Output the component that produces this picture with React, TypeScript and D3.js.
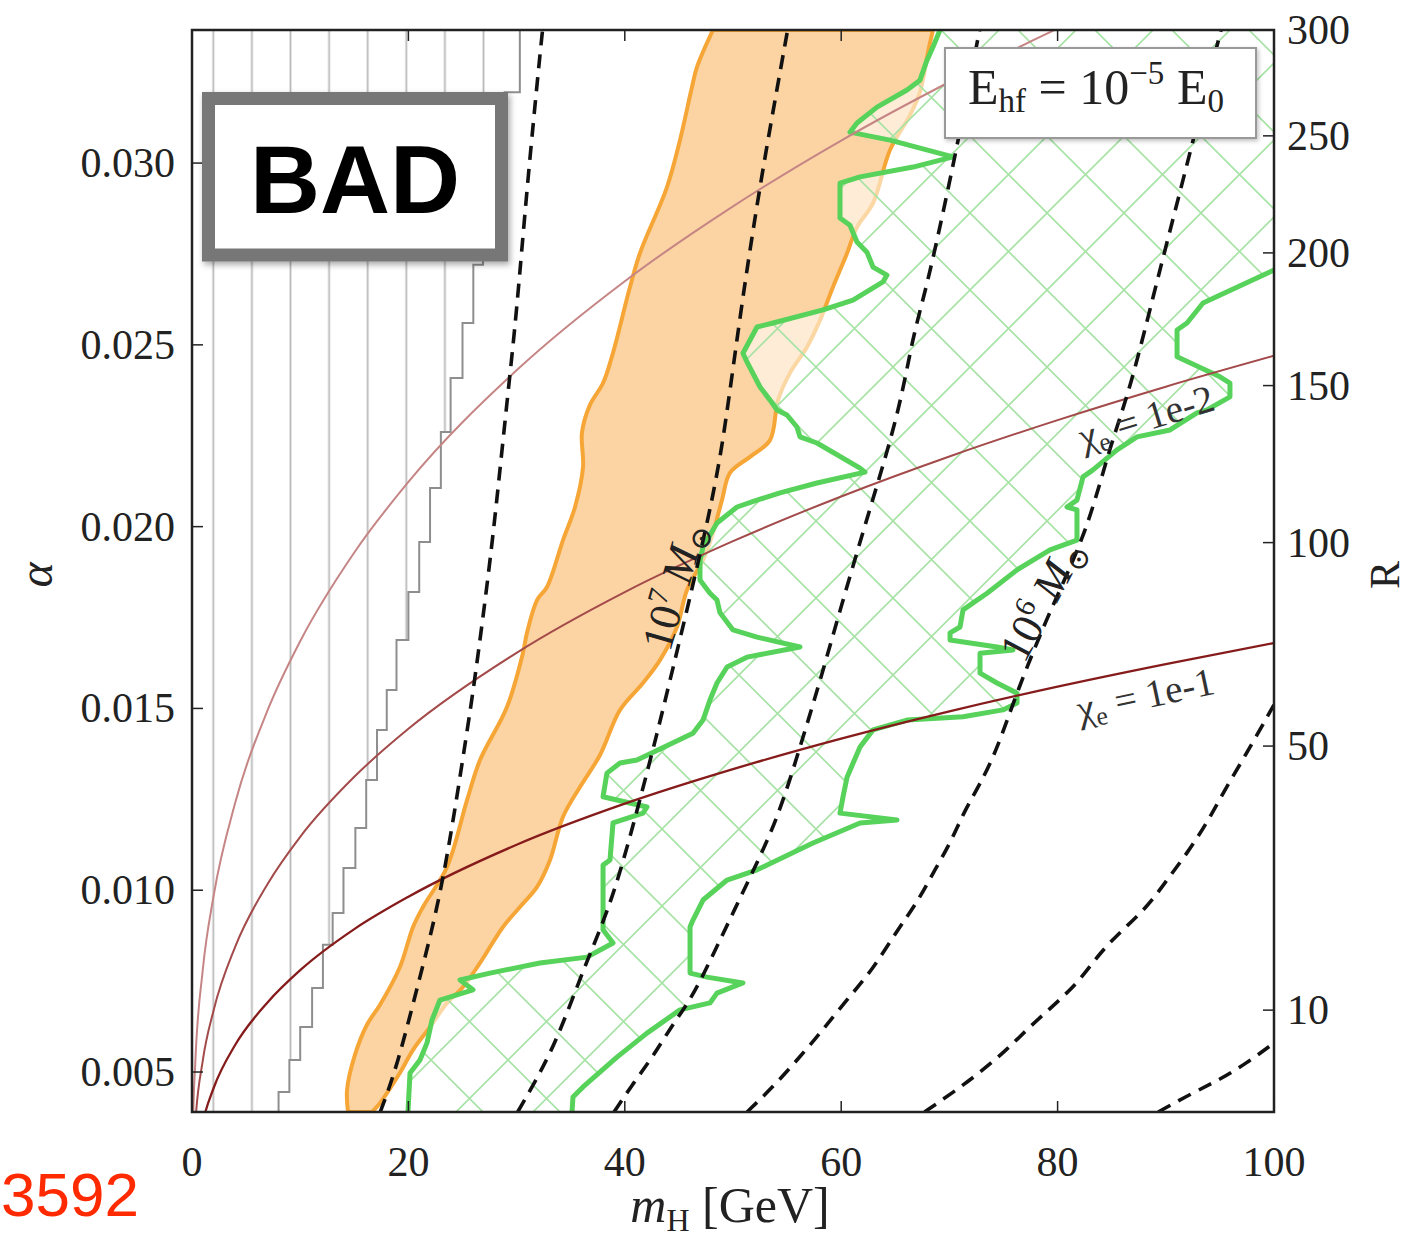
import React from 'react';
import * as d3 from 'd3';

type P = [number, number];

// ---- axes / ticks ----
const MH_MIN = 0;
const MH_MAX = 100;
const ALPHA_MIN = 0.0039;
const ALPHA_MAX = 0.03366;
const X_TICKS = [0, 20, 40, 60, 80, 100];
const ALPHA_TICKS = [0.005, 0.01, 0.015, 0.02, 0.025, 0.03];
const ALPHA_TICK_LABELS = ['0.005', '0.010', '0.015', '0.020', '0.025', '0.030'];
const R_TICKS = [10, 50, 100, 150, 200, 250, 300];
// R = R_COEF * alpha^2 - R_OFFSET
const R_OFFSET = 1.97;
const R_COEF = 266500;

// ---- chi_e curves ----
const CHI_MH = [0, 0.1, 0.3, 1, 2, 4, 7, 10, 15, 20, 30, 40, 50, 60, 70, 80, 90, 100];
const CHI_1E3 = [0, 0.00363, 0.00523, 0.00782, 0.00985, 0.01241, 0.01496, 0.01685, 0.01929, 0.02123, 0.0243, 0.02675, 0.02881, 0.03062, 0.03223, 0.0337, 0.03505, 0.0363];
const CHI_1E2 = [0, 0.00247, 0.00356, 0.00532, 0.0067, 0.00845, 0.01018, 0.01147, 0.01312, 0.01444, 0.01653, 0.0182, 0.0196, 0.02083, 0.02193, 0.02293, 0.02385, 0.0247];
const CHI_1E1 = [0, 0.00168, 0.00242, 0.00362, 0.00456, 0.00575, 0.00692, 0.0078, 0.00893, 0.00982, 0.01125, 0.01238, 0.01333, 0.01417, 0.01492, 0.0156, 0.01622, 0.0168];

// ---- excluded (vertical hatch) stepped boundary ----
const STEP_BOUNDARY: P[] = [
  [8, 0.0039], [9, 0.00445], [10, 0.00533], [11.1, 0.00624], [12.1, 0.00731], [13, 0.0085],
  [14, 0.00937], [15.1, 0.01061], [16.1, 0.01171], [17.1, 0.01303], [18, 0.01441], [18.9, 0.01551],
  [20, 0.01688], [21, 0.0182], [22, 0.01958], [23, 0.02106], [23.9, 0.0226], [25, 0.02409],
  [26, 0.0256], [26.9, 0.0272], [27.8, 0.02851], [28.9, 0.03036], [30.3, 0.03195], [30.3, 0.03366],
];

// ---- dashed mass contours ----
const DASH_1: P[] = [[17.4, 0.0039], [18.95, 0.00514], [21.07, 0.00762], [23.2, 0.01009], [25.4, 0.01433], [26.1, 0.0157], [27.5, 0.01889], [28.3, 0.02109], [29.2, 0.02368], [30.0, 0.02588], [30.96, 0.02934], [32.2, 0.03311], [32.4, 0.03366]];
const DASH_2: P[] = [[30.1, 0.0039], [32.2, 0.00498], [34.0, 0.00608], [36.5, 0.00808], [38.9, 0.00973], [41.4, 0.01248], [43.0, 0.01433], [43.9, 0.01543], [48.2, 0.02073], [49.4, 0.02302], [50.6, 0.02568], [51.8, 0.02808], [53.1, 0.03044], [55.0, 0.03358]];
const DASH_3: P[] = [[39.0, 0.0039], [40.8, 0.0047], [42.6, 0.00542], [44.5, 0.00635], [46.3, 0.00707], [48.8, 0.00863], [51.6, 0.01037], [54.1, 0.01193], [56.2, 0.01394], [58.0, 0.0157], [60.5, 0.01834], [62.9, 0.02073], [65.4, 0.02321], [66.6, 0.02522], [67.9, 0.02659], [69.4, 0.02862], [70.7, 0.03044], [72.6, 0.03338], [72.8, 0.03366]];
const DASH_4: P[] = [[51.3, 0.0039], [53.7, 0.00459], [56.2, 0.00542], [58.3, 0.00616], [60.5, 0.00698], [62.9, 0.00781], [65.2, 0.00891], [67.0, 0.00965], [68.5, 0.01048], [70.1, 0.0113], [71.3, 0.01213], [72.8, 0.0129], [74.4, 0.01386], [76.2, 0.01543], [79.3, 0.01771], [82.7, 0.01983], [84.8, 0.02219], [86.7, 0.02376], [89.2, 0.02678], [91.6, 0.02953], [95.1, 0.03366]];
const DASH_5: P[] = [[67.7, 0.0039], [70.3, 0.00443], [72.8, 0.00498], [75.3, 0.00561], [77.4, 0.00624], [79.9, 0.0069], [82.1, 0.00753], [83.9, 0.00828], [86.0, 0.00891], [88.3, 0.00954], [90.1, 0.01028], [92.0, 0.01103], [93.8, 0.01185], [95.3, 0.01268], [97.1, 0.01358], [98.7, 0.01441], [100, 0.0151]];
const DASH_6: P[] = [[89.3, 0.0039], [92.5, 0.00443], [95.0, 0.00479], [97.5, 0.00525], [100, 0.0058]];

// ---- orange band ----
const ORANGE_LEFT: P[] = [[48.15, 0.03366], [46.67, 0.03264], [46.21, 0.03209], [45.1, 0.03063], [43.9, 0.02934], [41.4, 0.02752], [40.48, 0.02659], [38.91, 0.02478], [37.99, 0.02395], [36.78, 0.02335], [36.04, 0.02258], [36.14, 0.02164], [35.4, 0.02054], [34.29, 0.01963], [32.81, 0.01834], [31.89, 0.01798], [30.96, 0.01708], [30.59, 0.01653], [29.11, 0.01504], [26.62, 0.01358], [25.42, 0.01248], [23.57, 0.01064], [21.35, 0.00954], [20.43, 0.00899], [19.22, 0.00789], [17.38, 0.00685], [16.17, 0.0063], [15.06, 0.00547], [14.33, 0.00451], [14.42, 0.0039]];
const ORANGE_RIGHT: P[] = [[68.48, 0.03366], [68.02, 0.03305], [67.28, 0.03195], [66.36, 0.03132], [64.51, 0.03036], [62.94, 0.0289], [61.46, 0.02824], [60.54, 0.02752], [59.24, 0.02659], [58.04, 0.02568], [56.84, 0.02494], [55.27, 0.02423], [54.16, 0.02348], [53.42, 0.02238], [51.57, 0.02192], [49.72, 0.02148], [48.98, 0.02073], [48.15, 0.01983], [47.23, 0.01908], [45.75, 0.01826], [44.82, 0.01724], [43.25, 0.01633], [41.68, 0.0157], [39.56, 0.01496], [37.71, 0.01372], [35.86, 0.01284], [34.29, 0.01202], [33.09, 0.01083], [31.89, 0.01009], [30.31, 0.00954], [28.74, 0.00899], [26.62, 0.008], [25.05, 0.00734], [23.57, 0.0069], [22.0, 0.00624], [20.43, 0.00561], [19.22, 0.00498], [17.38, 0.00415], [16.64, 0.0039]];

// ---- green boundaries ----
const GREEN_UPPER: P[] = [[69.13, 0.03366], [68.48, 0.03319], [67.93, 0.03283], [67.28, 0.03228], [66.08, 0.03201], [63.31, 0.03154], [61.46, 0.0311], [60.81, 0.03085], [64.51, 0.03063], [70.33, 0.03017], [66.64, 0.02989], [61.74, 0.02962], [59.89, 0.02945], [59.89, 0.02849], [60.81, 0.02829], [61.46, 0.02783], [62.38, 0.02755], [62.94, 0.02714], [64.23, 0.02692], [63.86, 0.02673], [61.09, 0.02623], [58.32, 0.02596], [53.7, 0.0256], [52.22, 0.02549], [50.92, 0.02477], [51.29, 0.02453], [52.5, 0.02384], [53.42, 0.02348], [54.07, 0.02321], [54.99, 0.02307], [55.91, 0.02274], [56.19, 0.02247], [57.76, 0.0223], [61.74, 0.02161], [62.2, 0.0215], [57.76, 0.0212], [54.34, 0.02093], [52.22, 0.02073], [50.37, 0.02054], [48.52, 0.0201], [47.23, 0.01944], [46.95, 0.01908], [46.95, 0.01853], [47.87, 0.01817], [48.52, 0.01798], [48.8, 0.01763], [50.0, 0.01716], [52.22, 0.01696], [56.19, 0.01669], [51.29, 0.01641], [49.45, 0.01614], [48.52, 0.0157], [47.87, 0.01523], [47.23, 0.01468], [46.3, 0.01432], [41.13, 0.01358], [39.56, 0.0135], [38.35, 0.01322], [37.99, 0.01257], [42.05, 0.01229], [41.68, 0.01212], [38.91, 0.01185], [38.63, 0.01083], [37.99, 0.01069], [37.99, 0.00891], [38.91, 0.00855], [36.51, 0.00816], [32.16, 0.008], [27.54, 0.00772], [24.77, 0.00753], [25.97, 0.00726], [22.92, 0.00698], [22.18, 0.00643], [21.72, 0.0058], [21.07, 0.00533], [20.15, 0.00497], [19.96, 0.0039]];
const GREEN_RIGHT: P[] = [[100, 0.02706], [93.44, 0.02615], [91.96, 0.0256], [91.04, 0.02541], [91.04, 0.02467], [95.01, 0.02412], [95.93, 0.02395], [95.93, 0.02357], [93.81, 0.02321], [92.88, 0.02313], [90.39, 0.02266], [87.34, 0.02247], [85.49, 0.02211], [83.27, 0.02156], [82.35, 0.02137], [81.79, 0.02073], [80.87, 0.02054], [81.79, 0.02046], [81.79, 0.01963], [79.3, 0.01936], [76.25, 0.01881], [73.48, 0.01817], [71.26, 0.01771], [70.98, 0.01724], [70.06, 0.01708], [70.06, 0.01688], [74.4, 0.01669], [75.88, 0.01661], [72.83, 0.01652], [72.83, 0.01597], [74.4, 0.0157], [76.25, 0.01542], [76.25, 0.01515], [74.95, 0.01496], [71.26, 0.01477], [66.08, 0.01468], [62.94, 0.01441], [61.74, 0.01394], [60.54, 0.01311], [60.17, 0.01257], [59.89, 0.01212], [65.16, 0.01193], [61.74, 0.01185], [57.39, 0.0113], [52.22, 0.01056], [49.45, 0.01028], [47.23, 0.00973], [46.3, 0.00918], [46.03, 0.00899], [46.03, 0.00772], [47.6, 0.00761], [50.92, 0.00745], [48.52, 0.00717], [47.87, 0.0069], [45.1, 0.00671], [42.05, 0.00607], [39.28, 0.00541], [36.14, 0.00459], [35.21, 0.00431], [35.12, 0.0039]];

const SERIF = "'Liberation Serif', 'DejaVu Serif', serif";

export default function App() {
  const x = d3.scaleLinear().domain([MH_MIN, MH_MAX]).range([192, 1274]);
  const y = d3.scaleLinear().domain([ALPHA_MIN, ALPHA_MAX]).range([1112, 30]);
  const rY = (r: number) => y(Math.sqrt((r + R_OFFSET) / R_COEF));
  const [x0, x1] = x.range();
  const [yb, yt] = y.range();

  const lin = d3.line<P>().x(d => x(d[0])).y(d => y(d[1]));
  const smooth = d3.line<P>().x(d => x(d[0])).y(d => y(d[1])).curve(d3.curveCatmullRom.alpha(0.5));
  const basis = d3.line<P>().x(d => x(d[0])).y(d => y(d[1])).curve(d3.curveBasis);
  const mono = d3.line<P>().x(d => x(d[0])).y(d => y(d[1])).curve(d3.curveMonotoneX);
  const step = d3.line<P>().x(d => x(d[0])).y(d => y(d[1])).curve(d3.curveStepBefore);

  const stepPath = step(STEP_BOUNDARY) as string;
  const hatchRegion = `${stepPath} L${x(MH_MIN)},${y(ALPHA_MAX)} L${x(MH_MIN)},${y(ALPHA_MIN)} Z`;

  const orangePath = (smooth(ORANGE_LEFT) as string) + (smooth([...ORANGE_RIGHT].reverse()) as string).replace(/^M/, 'L') + 'Z';

  const greenRegionPts: P[] = [...GREEN_UPPER, ...[...GREEN_RIGHT].reverse(), [MH_MAX, ALPHA_MAX]];
  const greenRegion = (lin(greenRegionPts) as string) + 'Z';

  const chiSeries = [
    { vals: CHI_1E3, color: '#c68585', w: 2 },
    { vals: CHI_1E2, color: '#a34a4a', w: 2 },
    { vals: CHI_1E1, color: '#861b1b', w: 2.3 },
  ];
  const dashes = [DASH_1, DASH_2, DASH_3, DASH_4, DASH_5, DASH_6];

  const tickLen = 11;
  const fontTick = 42;

  return (
    <svg width={1424} height={1243} style={{ position: 'absolute', left: 0, top: 0, background: '#fff' }}
      xmlns="http://www.w3.org/2000/svg">
      <defs>
        <clipPath id="plotClip">
          <rect x={x0} y={yt} width={x1 - x0} height={yb - yt} />
        </clipPath>
        <pattern id="vhatch" patternUnits="userSpaceOnUse" x={194} y={0} width={38.6} height={50}>
          <line x1={19.3} y1={-5} x2={19.3} y2={55} stroke="#b9b9b9" strokeWidth={1.8} />
        </pattern>
        <pattern id="xhatch" patternUnits="userSpaceOnUse" x={46} y={59} width={77} height={77}>
          <path d="M-5,-5 L82,82 M82,-5 L-5,82" stroke="#a6e3a4" strokeWidth={1.6} fill="none" />
        </pattern>
        <filter id="shadow" x="-10%" y="-10%" width="130%" height="140%">
          <feDropShadow dx={2} dy={3} stdDeviation={3} floodColor="#000" floodOpacity={0.35} />
        </filter>
        <filter id="shadowSoft" x="-10%" y="-10%" width="130%" height="140%">
          <feDropShadow dx={1.5} dy={2} stdDeviation={2} floodColor="#000" floodOpacity={0.25} />
        </filter>
      </defs>

      <rect x={0} y={0} width={1424} height={1243} fill="#fff" />

      <g clipPath="url(#plotClip)">
        {/* vertical-hatched excluded region */}
        <path d={hatchRegion} fill="url(#vhatch)" stroke="none" />
        <path d={stepPath} fill="none" stroke="#8e8e8e" strokeWidth={2} />

        {/* orange band */}
        <path d={orangePath} fill="#fcd4a4" stroke="#f6a637" strokeWidth={4} strokeLinejoin="round" />

        {/* green hatched region */}
        <path d={greenRegion} fill="#ffffff" fillOpacity={0.55} stroke="none" />
        <path d={greenRegion} fill="url(#xhatch)" stroke="none" />
        <path d={lin(GREEN_UPPER) as string} fill="none" stroke="#57d25a" strokeWidth={5} strokeLinejoin="round" />
        <path d={lin(GREEN_RIGHT) as string} fill="none" stroke="#57d25a" strokeWidth={5} strokeLinejoin="round" />

        {/* chi_e curves */}
        {chiSeries.map((s, i) => (
          <path key={i} d={mono(CHI_MH.map((m, j) => [m, s.vals[j]] as P)) as string}
            fill="none" stroke={s.color} strokeWidth={s.w} />
        ))}

        {/* dashed contours */}
        {dashes.map((d, i) => (
          <path key={i} d={basis(d) as string} fill="none" stroke="#111" strokeWidth={3.6}
            strokeDasharray="14,9" />
        ))}
      </g>

      {/* frame */}
      <rect x={x0} y={yt} width={x1 - x0} height={yb - yt} fill="none" stroke="#222" strokeWidth={2.5} />

      {/* ticks */}
      {X_TICKS.map(t => (
        <g key={'xt' + t}>
          <line x1={x(t)} x2={x(t)} y1={yb} y2={yb - tickLen} stroke="#222" strokeWidth={1.5} />
          <line x1={x(t)} x2={x(t)} y1={yt} y2={yt + tickLen} stroke="#222" strokeWidth={1.5} />
          <text x={x(t)} y={yb + 64} textAnchor="middle" fontFamily={SERIF} fontSize={fontTick} fill="#222">{t}</text>
        </g>
      ))}
      {ALPHA_TICKS.map((t, i) => (
        <g key={'yt' + t}>
          <line x1={x0} x2={x0 + tickLen} y1={y(t)} y2={y(t)} stroke="#222" strokeWidth={1.5} />
          <text x={175} y={y(t) + 14} textAnchor="end" fontFamily={SERIF} fontSize={fontTick} fill="#222">{ALPHA_TICK_LABELS[i]}</text>
        </g>
      ))}
      {R_TICKS.map(r => (
        <g key={'rt' + r}>
          <line x1={x1} x2={x1 - tickLen} y1={rY(r)} y2={rY(r)} stroke="#222" strokeWidth={1.5} />
          <text x={1287} y={rY(r) + 14} textAnchor="start" fontFamily={SERIF} fontSize={fontTick} fill="#222">{r}</text>
        </g>
      ))}

      {/* axis titles */}
      <text transform="translate(52,575) rotate(-90)" textAnchor="middle" fontFamily={SERIF} fontStyle="italic" fontSize={48} fill="#222">α</text>
      <text transform="translate(1399,575) rotate(-90)" textAnchor="middle" fontFamily={SERIF} fontSize={42} fill="#222">R</text>
      <text x={730} y={1222} textAnchor="middle" fontFamily={SERIF} fontSize={50} fill="#222">
        <tspan fontStyle="italic">m</tspan>
        <tspan fontSize={32} dy={9}>H</tspan>
        <tspan dy={-9}> [GeV]</tspan>
      </text>

      {/* curve labels */}
      <text transform="translate(688,590) rotate(-74)" textAnchor="middle" fontFamily={SERIF} fontSize={44} fill="#222">
        <tspan>10</tspan><tspan fontSize={29} dy={-17}>7</tspan><tspan dy={17}> </tspan>
        <tspan fontStyle="italic">M</tspan><tspan fontSize={29} dy={8}>⊙</tspan>
      </text>
      <text transform="translate(1055,607) rotate(-62)" textAnchor="middle" fontFamily={SERIF} fontSize={44} fill="#222">
        <tspan>10</tspan><tspan fontSize={29} dy={-17}>6</tspan><tspan dy={17}> </tspan>
        <tspan fontStyle="italic">M</tspan><tspan fontSize={29} dy={8}>⊙</tspan>
      </text>
      <text transform="translate(1150,430) rotate(-17)" textAnchor="middle" fontFamily={SERIF} fontSize={39} fill="#333">
        <tspan>χ</tspan><tspan fontSize={26} dy={7}>e</tspan><tspan dy={-7}> = 1e-2</tspan>
      </text>
      <text transform="translate(1148,708) rotate(-12)" textAnchor="middle" fontFamily={SERIF} fontSize={39} fill="#333">
        <tspan>χ</tspan><tspan fontSize={26} dy={7}>e</tspan><tspan dy={-7}> = 1e-1</tspan>
      </text>

      {/* legend */}
      <rect x={945} y={48} width={311} height={90} fill="#fff" stroke="#999" strokeWidth={2} filter="url(#shadowSoft)" />
      <text x={968} y={104} fontFamily={SERIF} fontSize={50} fill="#222">
        <tspan>E</tspan><tspan fontSize={33} dy={8}>hf</tspan><tspan dy={-8}> = 10</tspan>
        <tspan fontSize={33} dy={-20}>−5</tspan><tspan dy={20}> E</tspan><tspan fontSize={33} dy={8}>0</tspan>
      </text>

      {/* BAD stamp */}
      <rect x={208.5} y={98.5} width={293} height={156.5} fill="#fff" stroke="#777" strokeWidth={13} filter="url(#shadow)" />
      <text x={355} y={213} textAnchor="middle" fontFamily="'Liberation Sans', Arial, sans-serif" fontWeight="bold" fontSize={97} fill="#000">BAD</text>

      {/* id label */}
      <text x={1} y={1216} textAnchor="start" fontFamily="'Liberation Sans', Arial, sans-serif" fontSize={62} fill="#ff2a00">3592</text>
    </svg>
  );
}
